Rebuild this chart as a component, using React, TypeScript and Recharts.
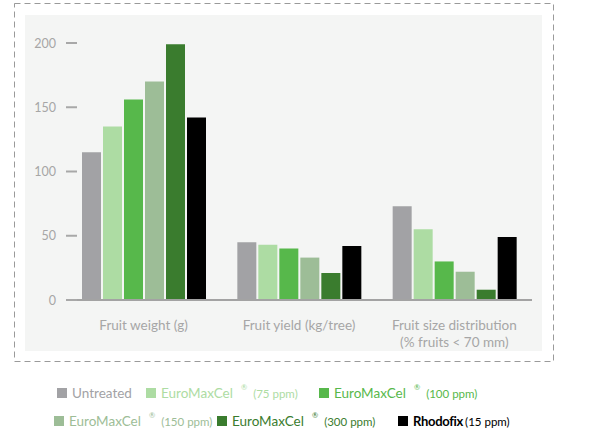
import React from "react";
import { BarChart, Bar, XAxis, YAxis } from "recharts";

const CATEGORIES = [
  ["Fruit weight (g)"],
  ["Fruit yield (kg/tree)"],
  ["Fruit size distribution", "(% fruits < 70 mm)"],
];

const UNTREATED = [115, 45, 73];
const EMC_75 = [135, 43, 55];
const EMC_100 = [156, 40, 30];
const EMC_150 = [170, 33, 22];
const EMC_300 = [199, 21, 8];
const RHODOFIX = [142, 42, 49];

const Y_TICKS = [0, 50, 100, 150, 200];

const SERIES = [
  { key: "untreated", name: "Untreated", dose: "", color: "#a2a2a5", values: UNTREATED },
  { key: "emc75", name: "EuroMaxCel", dose: "(75 ppm)", color: "#addca3", values: EMC_75 },
  { key: "emc100", name: "EuroMaxCel", dose: "(100 ppm)", color: "#57b84b", values: EMC_100 },
  { key: "emc150", name: "EuroMaxCel", dose: "(150 ppm)", color: "#9dbd97", values: EMC_150 },
  { key: "emc300", name: "EuroMaxCel", dose: "(300 ppm)", color: "#3a7c2e", values: EMC_300 },
  { key: "rhodofix", name: "Rhodofix", dose: "(15 ppm)", color: "#000000", values: RHODOFIX },
];

const data = CATEGORIES.map((lines, i) => {
  const row: Record<string, any> = { name: lines.join(" "), lines };
  SERIES.forEach((s) => (row[s.key] = s.values[i]));
  return row;
});

const FONT = "Lato, 'Open Sans', sans-serif";
const GREY = "#a6a6a6";

// legend slots (left, top) for each series, two rows
const LEGEND_POS = [
  [57, 384], [146, 384], [319, 384],
  [54, 412], [217, 412], [398, 412],
];

function YTick(props: any) {
  const { x, y, payload } = props;
  return (
    <g>
      <text x={x} y={y} dy={4.5} textAnchor="end" fontSize={12.5} fill={GREY} fontFamily={FONT}>
        {payload.value}
      </text>
      <line x1={x + 10} x2={x + 21} y1={y} y2={y} stroke="#a8a8a8" strokeWidth={2} />
    </g>
  );
}

function XTick(props: any) {
  const { x, y, payload, index } = props;
  const lines = CATEGORIES[index] ?? [payload.value];
  return (
    <text x={x} y={y} textAnchor="middle" fontSize={13.5} fill={GREY} fontFamily={FONT}>
      {lines.map((l, i) => (
        <tspan key={i} x={x} dy={i === 0 ? 22 : 17}>{l}</tspan>
      ))}
    </text>
  );
}

function LegendItem({ s, pos }: { s: (typeof SERIES)[number]; pos: number[] }) {
  const bold = s.key === "rhodofix";
  const emc = s.key.startsWith("emc");
  return (
    <div
      style={{
        position: "absolute", left: pos[0], top: pos[1], height: 18, display: "flex",
        alignItems: "center", whiteSpace: "nowrap", fontFamily: FONT,
        color: bold ? "#000" : s.color,
      }}
    >
      <span style={{ width: 10, height: 10, background: s.color, marginRight: 5, display: "inline-block" }} />
      <span style={{ fontSize: bold ? 13 : 13.5, fontWeight: bold ? 700 : 400, letterSpacing: bold ? -0.3 : 0 }}>
        {s.name}
      </span>
      {emc && (
        <span style={{ fontSize: 7.5, marginLeft: 8, alignSelf: "flex-start", marginTop: -1 }}>®</span>
      )}
      {s.dose && (
        <span style={{ fontSize: 11.5, marginLeft: emc ? 6 : 2 }}>{s.dose}</span>
      )}
    </div>
  );
}

export default function App() {
  return (
    <div style={{ position: "absolute", left: 0, top: 0, width: 589, height: 432, background: "#fff" }}>
      <svg width={589} height={432} style={{ position: "absolute", left: 0, top: 0 }}>
        <rect x={14.5} y={3.5} width={539} height={358} fill="none" stroke="#9a9a9a" strokeDasharray="6 4" />
        <rect x={25} y={15} width={517} height={336} fill="#f4f5f4" />
      </svg>
      <div style={{ position: "absolute", left: 0, top: 0 }}>
        <BarChart
          width={589}
          height={370}
          data={data}
          margin={{ top: 43, right: 57, bottom: 20, left: 0 }}
          barGap={2}
          barCategoryGap={16}
        >
          <XAxis
            dataKey="name"
            axisLine={{ stroke: "#a3a3a3", strokeWidth: 2 }}
            tickLine={false}
            height={50}
            interval={0}
            tick={<XTick />}
          />
          <YAxis
            domain={[0, 200]}
            ticks={Y_TICKS}
            width={66}
            axisLine={false}
            tickLine={false}
            tickSize={0}
            tickMargin={10}
            tick={<YTick />}
          />
          {SERIES.map((s) => (
            <Bar key={s.key} dataKey={s.key} fill={s.color} isAnimationActive={false} />
          ))}
        </BarChart>
      </div>
      {SERIES.map((s, i) => (
        <LegendItem key={s.key} s={s} pos={LEGEND_POS[i]} />
      ))}
    </div>
  );
}
